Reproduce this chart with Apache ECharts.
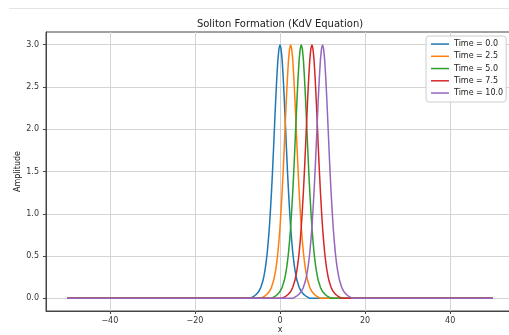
<!DOCTYPE html>
<html>
<head>
<meta charset="utf-8">
<script src="https://cdn.jsdelivr.net/npm/echarts@6/dist/echarts.min.js"></script>
<style>
  html, body { margin: 0; padding: 0; background: #fff; }
  #main { width: 509px; height: 335px; }
</style>
</head>
<body>
<div id="main"></div>
<script>
// soliton snapshots
const timeLabels = ['Time = 0.0', 'Time = 2.5', 'Time = 5.0', 'Time = 7.5', 'Time = 10.0'];
const peakCenters = [0, 2.5, 5, 7.5, 10];
const xEdges = [-50, 50];
// pulse shape around its peak (offset from center -> amplitude)
const peakOffsets = [-7, -6, -5.5, -5, -4.5, -4, -3.75, -3.5, -3.25, -3, -2.75, -2.5, -2.25, -2, -1.75, -1.5, -1.25, -1, -0.75, -0.5, -0.25,
  0, 0.25, 0.5, 0.75, 1, 1.25, 1.5, 1.75, 2, 2.25, 2.5, 2.75, 3, 3.25, 3.5, 3.75, 4, 4.5, 5, 5.5, 6, 7];
const peakValues = [0.0, 0.03, 0.05, 0.08, 0.13, 0.21, 0.27, 0.34, 0.43, 0.54, 0.68, 0.84, 1.04, 1.26, 1.51, 1.79, 2.08, 2.36, 2.61, 2.82, 2.95,
  3.0, 2.95, 2.82, 2.61, 2.36, 2.08, 1.79, 1.51, 1.26, 1.04, 0.84, 0.68, 0.54, 0.43, 0.34, 0.27, 0.21, 0.13, 0.08, 0.05, 0.03, 0.0];
const xTicks = [-40, -20, 0, 20, 40];
const yTicks = [0, 0.5, 1, 1.5, 2, 2.5, 3];
const colors = ['#1f77b4', '#ff7f0e', '#2ca02c', '#d62728', '#9467bd'];

const font = 'DejaVu Sans';
// thin line icon for the legend, padded to the item box
const lineIcon = 'path://M0,0 M0,9 M0,3.8 L18,3.8 L18,5.3 L0,5.3 Z';

const buildSeries = () => timeLabels.map((name, i) => {
  const pts = [[xEdges[0], 0]];
  peakOffsets.forEach((d, j) => pts.push([peakCenters[i] + d, peakValues[j]]));
  pts.push([xEdges[1], 0]);
  return {
    name: name,
    type: 'line',
    data: pts,
    symbol: 'none',
    smooth: false,
    lineStyle: { width: 1.5, color: colors[i] },
    itemStyle: { color: colors[i] },
    z: 2 + i
  };
});

const option = {
  animation: false,
  color: colors,
  textStyle: { fontFamily: font },
  title: {
    text: 'Soliton Formation (KdV Equation)',
    left: 280,
    textAlign: 'center',
    top: 19,
    padding: 0,
    textStyle: { fontSize: 10, fontWeight: 'normal', color: '#222', fontFamily: font }
  },
  legend: {
    orient: 'vertical',
    left: 426,
    top: 36,
    icon: lineIcon,
    itemWidth: 18,
    itemHeight: 9,
    itemGap: 3.25,
    padding: [3.5, 3, 4.5, 5],
    backgroundColor: 'rgba(255,255,255,0.85)',
    borderColor: '#cccccc',
    borderWidth: 1,
    borderRadius: 3,
    textStyle: { fontSize: 8, color: '#222', fontFamily: font },
    data: timeLabels
  },
  grid: {
    left: 46,
    right: -5,
    top: 32,
    bottom: 24,
    outerBoundsMode: 'none',
    containLabel: false,
    show: true,
    borderColor: '#444',
    borderWidth: 1
  },
  xAxis: {
    type: 'value',
    min: -55,
    max: 55,
    name: 'x',
    nameLocation: 'middle',
    nameGap: 15,
    nameMoveOverlap: false,
    nameTextStyle: { fontSize: 8, color: '#222', fontFamily: font },
    axisLine: { show: true, onZero: false, lineStyle: { color: '#444', width: 1 } },
    axisTick: { show: true, length: 3, customValues: xTicks, lineStyle: { color: '#444' } },
    axisLabel: {
      fontSize: 8, color: '#333', margin: 6, fontFamily: font, customValues: xTicks,
      formatter: v => (v < 0 ? '\u2212' + Math.abs(v) : String(v))
    },
    splitLine: { show: true, lineStyle: { color: '#d4d4d4', width: 1 } }
  },
  yAxis: {
    type: 'value',
    min: -0.15,
    max: 3.15,
    name: 'Amplitude',
    nameLocation: 'middle',
    nameGap: 24,
    nameMoveOverlap: false,
    nameRotate: 90,
    nameTextStyle: { fontSize: 8, color: '#222', fontFamily: font },
    axisLine: { show: true, onZero: false, lineStyle: { color: '#444', width: 1 } },
    axisTick: { show: true, length: 3, customValues: yTicks, lineStyle: { color: '#444' } },
    axisLabel: {
      fontSize: 8, color: '#333', margin: 7, fontFamily: font, customValues: yTicks,
      formatter: v => v.toFixed(1)
    },
    splitLine: { show: true, lineStyle: { color: '#d4d4d4', width: 1 } }
  },
  graphic: [{
    type: 'line',
    shape: { x1: 9, y1: 8.5, x2: 509, y2: 8.5 },
    style: { stroke: '#e4e4e4', lineWidth: 1 },
    silent: true
  }],
  series: buildSeries()
};

const myChart = echarts.init(document.getElementById('main'), null, { renderer: 'canvas' });
myChart.setOption(option);
</script>
</body>
</html>
